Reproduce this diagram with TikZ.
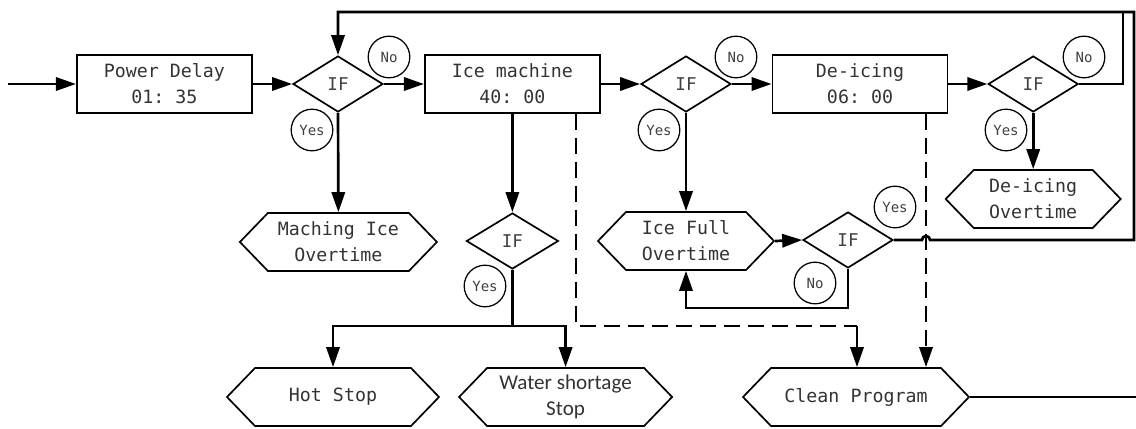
\documentclass[tikz,border=0pt]{standalone}
\usepackage{fontspec}
\setmonofont{DejaVu Sans Mono}
\newfontfamily\carlito{Carlito}
\usepackage{tikz}
\usetikzlibrary{shapes,arrows.meta,positioning,calc}

\tikzset{
  box/.style={draw, line width=1.3pt, minimum width=4.375cm, minimum height=1.45cm, inner sep=0pt, align=center, font=\ttfamily\fontsize{13}{18.5}\selectfont, text=black!80},
  cond/.style={draw, diamond, line width=1.2pt, minimum width=2.25cm, minimum height=1.4cm, inner sep=0pt, font=\ttfamily\fontsize{12.5}{14}\selectfont, text=black!75},
  hexa/.style={draw, signal, signal to=east and west, signal pointer angle=92, line width=1.2pt, minimum height=1.45cm, inner sep=0pt, align=center, font=\ttfamily\fontsize{13}{18.5}\selectfont, text=black!80},
  tag/.style={draw, circle, line width=0.9pt, minimum size=1.04cm, inner sep=0pt, font=\ttfamily\fontsize{10}{12}\selectfont, text=black!75},
  flow/.style={line width=1.9pt, -{Triangle[length=0.5cm,width=0.33cm]}},
  wire/.style={line width=1.9pt},
  dline/.style={line width=1.8pt, dash pattern=on 0.4cm off 0.2cm}
}

\begin{document}
\begin{tikzpicture}
    \useasboundingbox (0,0) rectangle (28.4,10.7);

    % Top row
    \node[box] (pd) at (4.11,8.6) {Power Delay\\01: 35};
    \node[cond] (if1) at (8.45,8.6) {IF};
    \node[box] (ice) at (12.81,8.6) {Ice machine\\40: 00};
    \node[cond] (if2) at (17.15,8.6) {IF};
    \node[box] (deice) at (21.5,8.6) {De-icing\\06: 00};
    \node[cond] (if3) at (25.83,8.6) {IF};

    % Middle row
    \node[hexa, minimum width=4.925cm] (mio) at (8.46,4.65) {Maching Ice\\Overtime};
    \node[cond, minimum width=2.3cm] (if5) at (12.81,4.675) {IF};
    \node[hexa, minimum width=4.4cm] (ifo) at (17.15,4.675) {Ice Full\\Overtime};
    \node[cond] (if4) at (21.2,4.7) {IF};
    \node[hexa, minimum width=4.375cm] (dio) at (25.83,5.725) {De-icing\\Overtime};

    % Bottom row
    \node[hexa, minimum width=5.3cm] (hot) at (8.325,0.775) {Hot Stop};
    \node[hexa, minimum width=5.325cm, font=\carlito\fontsize{15}{18}\selectfont] (water) at (14.14,0.775) {Water shortage\\Stop};
    \node[hexa, minimum width=5.65cm] (clean) at (21.4,0.775) {Clean Program};

    % Yes / No tags
    \foreach \name/\x/\y/\txt in {n1/9.725/9.275/No, y1/7.8/7.45/Yes, n2/18.4/9.275/No, y2/16.475/7.45/Yes, n3/27.1/9.275/No, y3/25.15/7.45/Yes, y5/12.125/3.55/Yes, y4/22.375/5.525/Yes, n4/20.375/3.625/No} {
        \node[tag] (\name) at (\x,\y) {\txt};
    }

    % Helper points
    \coordinate (in) at (0.2,8.6);
    \coordinate (j3) at (28.075,10.4);
    \coordinate (tr) at (28.35,10.4);
    \coordinate (sp) at (12.81,2.55);
    \coordinate (nb) at (17.15,3.0);
    \coordinate (dA) at (14.4,2.55);
    \coordinate (cj) at (21.425,2.55);
    \coordinate (dB) at (23.15,4.7);
    \coordinate (out) at (28.4,0.775);

    % Main flow
    \draw[flow] (in) -- (pd.west);
    \draw[flow] (pd.east) -- (if1.west);
    \draw[flow] (if1.east) -- (ice.west);
    \draw[flow] (ice.east) -- (if2.west);
    \draw[flow] (if2.east) -- (deice.west);
    \draw[flow] (deice.east) -- (if3.west);

    % Branches down
    \draw[flow] (if1.south) -- (mio.north);
    \draw[flow] (ice.south) -- (if5.north);
    \draw[flow] (if2.south) -- (ifo.north);
    \draw[flow] (if3.south) -- (dio.north);
    \draw[wire] (if5.south) -- (sp);
    \draw[flow] (sp) -| (hot.north);
    \draw[flow] (sp) -| (water.north);
    \draw[flow] (ifo.east) -- (if4.west);
    \draw[flow] (if4.south) |- (nb) -- (ifo.south);

    % Loop back
    \draw[wire] (if3.east) -| (j3);
    \draw[flow] (if4.east) -- ($(dB)+(-0.1,0)$) arc (180:0:0.1) -| (tr) -| (if1.north);

    % Clean program
    \draw[dline] (ice.south -| dA) -- (dA) -- (cj);
    \draw[flow] (cj) -- (cj |- clean.north);
    \draw[dline, -{Triangle[length=0.5cm,width=0.33cm]}] (deice.south -| dB) -- (clean.north -| dB);
    \draw[wire] (clean.east) -- (out);

\end{tikzpicture}
\end{document}
